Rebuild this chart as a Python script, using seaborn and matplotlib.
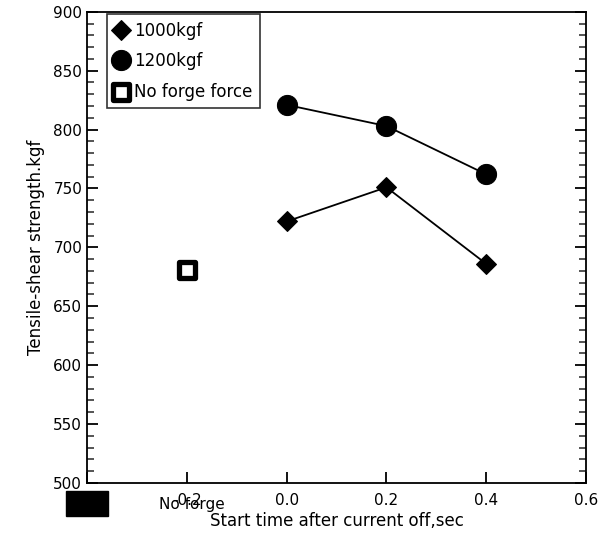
import matplotlib
matplotlib.use("Agg")
import matplotlib.pyplot as plt
import seaborn as sns
import numpy as np
import pandas as pd
from matplotlib.patches import Rectangle
from matplotlib.ticker import MultipleLocator

sns.set_theme(style="white")
plt.rcParams['font.family'] = ['DejaVu Sans']
plt.rcParams['text.color'] = 'black'

# data
x_1000 = [0.0, 0.2, 0.4]
y_1000 = [722, 751, 686]
x_1200 = [0.0, 0.2, 0.4]
y_1200 = [821, 803, 762]
x_noforge = [-0.2]
y_noforge = [681]
xticks = [-0.4, -0.2, 0.0, 0.2, 0.4, 0.6]
xticklabels = ["-0.4", "-0.2", "0.0", "0.2", "0.4", "0.6"]
yticks = [500, 550, 600, 650, 700, 750, 800, 850, 900]

fig = plt.figure(figsize=(5.98, 5.36), dpi=100)
ax = fig.add_axes([0.1455, 0.099, 0.8345, 0.879])

df1 = pd.DataFrame({"x": x_1000, "y": y_1000})
df2 = pd.DataFrame({"x": x_1200, "y": y_1200})
df3 = pd.DataFrame({"x": x_noforge, "y": y_noforge})

sns.lineplot(data=df1, x="x", y="y", ax=ax, color="black", lw=1.3,
             marker="D", markersize=10.5, markeredgecolor="black", label="1000kgf")
sns.lineplot(data=df2, x="x", y="y", ax=ax, color="black", lw=1.3,
             marker="o", markersize=14.5, markeredgecolor="black", label="1200kgf")
sns.scatterplot(data=df3, x="x", y="y", ax=ax, marker="s", s=130,
                facecolor="white", edgecolor="black", linewidth=3.8,
                label="No forge force")

ax.set_xlim(-0.4, 0.6)
ax.set_ylim(500, 900)
ax.set_xticks(xticks)
ax.set_xticklabels(xticklabels)
ax.set_yticks(yticks)
ax.yaxis.set_minor_locator(MultipleLocator(10))
ax.tick_params(axis="x", which="major", direction="in", length=8, width=1.3,
               bottom=True, top=False, labelsize=11, colors="black", pad=7)
ax.tick_params(axis="y", which="major", direction="in", length=8, width=1.3,
               left=True, right=True, labelsize=11, colors="black")
ax.tick_params(axis="y", which="minor", direction="in", length=5, width=1.1,
               left=True, right=True)
for s in ax.spines.values():
    s.set_color("black")
    s.set_linewidth(1.3)

ax.set_xlabel("Start time after current off,sec", fontsize=12, color="black", labelpad=3)
ax.set_ylabel("Tensile-shear strength.kgf", fontsize=12, color="black", labelpad=6)

ax.text(-0.255, 500, "No forge", transform=ax.transData, fontsize=11,
        ha="left", va="top", color="black").set_y(488)
# black box covering the leftmost tick label
fig.patches.append(Rectangle((66/598, 1-516/536), 42/598, 25/536,
                             transform=fig.transFigure, facecolor="black",
                             edgecolor="black", zorder=10))

leg = ax.legend(loc="upper left", bbox_to_anchor=(0.04, 0.995), frameon=True,
                fontsize=12, fancybox=False, edgecolor="black",
                handlelength=0.8, handletextpad=0.4, borderaxespad=0.0,
                labelspacing=0.75, borderpad=0.45, labelcolor="black")
leg.get_frame().set_linewidth(1.2)
for h in leg.legend_handles:
    try:
        h.set_linestyle("none")
    except Exception:
        pass

fig.savefig("out.png", dpi=100, facecolor="white")
